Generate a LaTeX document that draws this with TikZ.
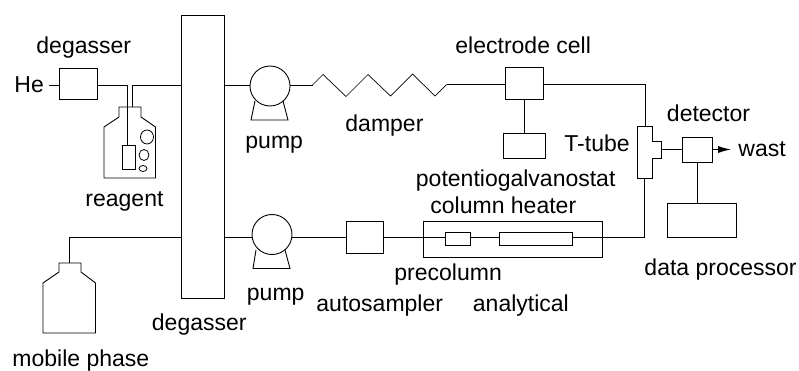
\documentclass[tikz,border=0pt]{standalone}
\usepackage{fontspec}
\setmainfont{Liberation Sans}
\usetikzlibrary{calc, arrows.meta}

\begin{document}
\begin{tikzpicture}[
	x=1pt, y=-1pt,
	line width=.9pt,
	box/.style={rectangle,draw,inner sep=0pt,outer sep=0pt},
	pumpCircle/.style={circle,draw,inner sep=0pt,outer sep=0pt,minimum size=40pt},
	txt/.style={anchor=base west,inner sep=0pt,font=\fontsize{23}{27}\selectfont},
	tube/.style={line width=.7pt},
	arrow/.style={-{Latex[length=13pt,width=7pt]}}
	]
	\useasboundingbox (0,0) rectangle (799,371);
	
	\coordinate (rowA) at (0, 85);
	\coordinate (rowB) at (0, 237);
	
	% Boxes
	\node [box, minimum width=43.5pt, minimum height=282.5pt] (bigDegasser) at (202.75, 156.75) {};
	\node [box, minimum width=38pt, minimum height=31pt] (smallDegasser) at (78, 83.5) {};
	\node [box, minimum width=37.5pt, minimum height=31.5pt] (cell) at (524.25, 83.5) {};
	\node [box, minimum width=42.5pt, minimum height=25.5pt] (potentiostat) at (524.25, 145.75) {};
	\node [box, minimum width=29.5pt, minimum height=24.5pt] (detector) at (697.25, 149.75) {};
	\node [box, minimum width=68.5pt, minimum height=34pt] (processor) at (701.75, 220) {};
	\node [box, minimum width=37.5pt, minimum height=31.5pt] (sampler) at (364.75, 237.25) {};
	\node [box, minimum width=179.5pt, minimum height=36.5pt] (heater) at (512.75, 239.25) {};
	\node [box, minimum width=25pt, minimum height=13.5pt] (precolumn) at (457.5, 238.75) {};
	\node [box, minimum width=72.5pt, minimum height=13.5pt] (column) at (535.75, 238.75) {};
	\node [box, minimum width=13pt, minimum height=23.5pt] (vial) at (128.5, 157.25) {};
	
	% Pumps
	\node [pumpCircle] (pumpA) at (270, 86) {};
	\node [pumpCircle] (pumpB) at (272, 234.5) {};
	\draw ($(pumpA) + (-15, 15)$) -- ($(pumpA) + (-19, 34)$) -- ($(pumpA) + (18, 34)$) -- ($(pumpA) + (13, 15)$);
	\draw ($(pumpB) + (-16, 15.5)$) -- ($(pumpB) + (-19, 34)$) -- ($(pumpB) + (18, 34)$) -- ($(pumpB) + (13, 15.5)$);
	
	% Reagent bottle
	\coordinate (reagentTop) at (130, 107);
	\draw ($(reagentTop) + (-11, 10)$) -- ($(reagentTop) + (-11, 0)$) -- ($(reagentTop) + (11, 0)$) -- ($(reagentTop) + (11, 10)$) -- ($(reagentTop) + (25.5, 20)$) -- ($(reagentTop) + (25.5, 71)$) -- ($(reagentTop) + (-26, 71)$) -- ($(reagentTop) + (-26, 20)$) -- cycle;
	\draw [line width=.8pt] (147, 137) ellipse [x radius=6.5, y radius=7];
	\draw [line width=.8pt] (144, 155) ellipse [x radius=5, y radius=5.5];
	\draw [line width=.8pt] (143, 168.5) ellipse [x radius=4, y radius=3];
	
	% Mobile phase bottle
	\coordinate (mobileTop) at (70, 263);
	\draw ($(mobileTop) + (-11, 9)$) -- ($(mobileTop) + (-11, 0)$) -- ($(mobileTop) + (11, 0)$) -- ($(mobileTop) + (11, 9)$) -- ($(mobileTop) + (25.5, 20)$) -- ($(mobileTop) + (25.5, 70)$) -- ($(mobileTop) + (-27, 70)$) -- ($(mobileTop) + (-27, 20)$) -- cycle;
	
	% T-tube
	\coordinate (teeA) at (637.5, 126.5);
	\coordinate (teeB) at (644, 178.5);
	\coordinate (teeC) at (661, 149.5);
	\draw (teeA) -- (652, 126.5) -- (652, 141) -- (661, 141) -- (661, 158.5) -- (652, 158.5) -- (652, 178.5) -- (637.5, 178.5) -- cycle;
	
	% Damper
	\coordinate (damperIn) at (312.5, 85);
	\coordinate (damperOut) at (446.5, 84.5);
	\draw [tube] (damperIn) -- (323, 74.5) -- (346, 96.5) -- (368, 74.5) -- (390.5, 96) -- (412.5, 74) -- (435, 96) -- (damperOut);
	
	% Upper row
	\coordinate (hePort) at (48.5, 85);
	\draw [tube] (hePort) -- (hePort -| smallDegasser.west);
	\draw (smallDegasser.east |- rowA) -- (127, 85) -- (vial.north -| 127, 0);
	\draw [tube] (132.5, 107) -- (132.5, 85) -- (bigDegasser.west |- rowA);
	\draw [tube] (bigDegasser.east |- rowA) -- (pumpA.west |- rowA);
	\draw [tube] (pumpA.east |- rowA) -- (damperIn);
	\draw [tube] (damperOut) -- (cell.west |- damperOut);
	\draw [tube] (cell.east |- damperOut) -- (645, 84.5) -- (645, 126.5);
	\draw (cell.south) -- (potentiostat.north);
	
	% Lower row
	\coordinate (mobileBend) at (69, 237);
	\coordinate (mobileEnd) at (115, 237);
	\draw (mobileTop -| mobileBend) -- (mobileBend) -- (mobileEnd);
	\draw [tube] (mobileEnd) -- (bigDegasser.west |- rowB);
	\draw [tube] (bigDegasser.east |- rowB) -- (pumpB.west |- rowB);
	\draw [tube] (pumpB.east |- rowB) -- (sampler.west |- rowB);
	\draw [tube] (sampler.east |- rowB) -- (precolumn.west |- rowB);
	\draw (precolumn.east |- rowB) -- (column.west |- rowB);
	\draw (column.east |- rowB) -- (teeB |- rowB) -- (teeB);
	
	% Detector
	\draw (teeC) -- (detector.west |- teeC);
	\draw (697, 161.75) -- (processor.north -| 697, 0);
	\coordinate (wastEnd) at (731, 149.5);
	\draw [arrow] (detector.east |- wastEnd) -- (wastEnd);
	
	% Labels
	\node [txt] (lblHe) at (14, 92.5) {He};
	\node [txt] (lblDegasserA) at (36, 54) {degasser};
	\node [txt] (lblReagent) at (85, 207) {reagent};
	\node [txt] (lblPumpA) at (245, 149) {pump};
	\node [txt] (lblDamper) at (345, 131.5) {damper};
	\node [txt] (lblCell) at (455, 54) {electrode cell};
	\node [txt] (lblTee) at (564, 151.5) {T-tube};
	\node [txt] (lblDetector) at (666.5, 121.5) {detector};
	\node [txt] (lblWast) at (738, 156.5) {wast};
	\node [txt] (lblPotentio) at (415.5, 186.5) {potentiogalvanostat};
	\node [txt] (lblHeater) at (430, 214) {column heater};
	\node [txt] (lblPrecolumn) at (394, 280) {precolumn};
	\node [txt] (lblPumpB) at (246.5, 300.5) {pump};
	\node [txt] (lblSampler) at (316, 311) {autosampler};
	\node [txt] (lblAnalytical) at (472.5, 311) {analytical};
	\node [txt] (lblDegasserB) at (151.5, 330) {degasser};
	\node [txt] (lblMobile) at (12, 366.5) {mobile phase};
	\node [txt] (lblProcessor) at (644, 275) {data processor};
\end{tikzpicture}
\end{document}
